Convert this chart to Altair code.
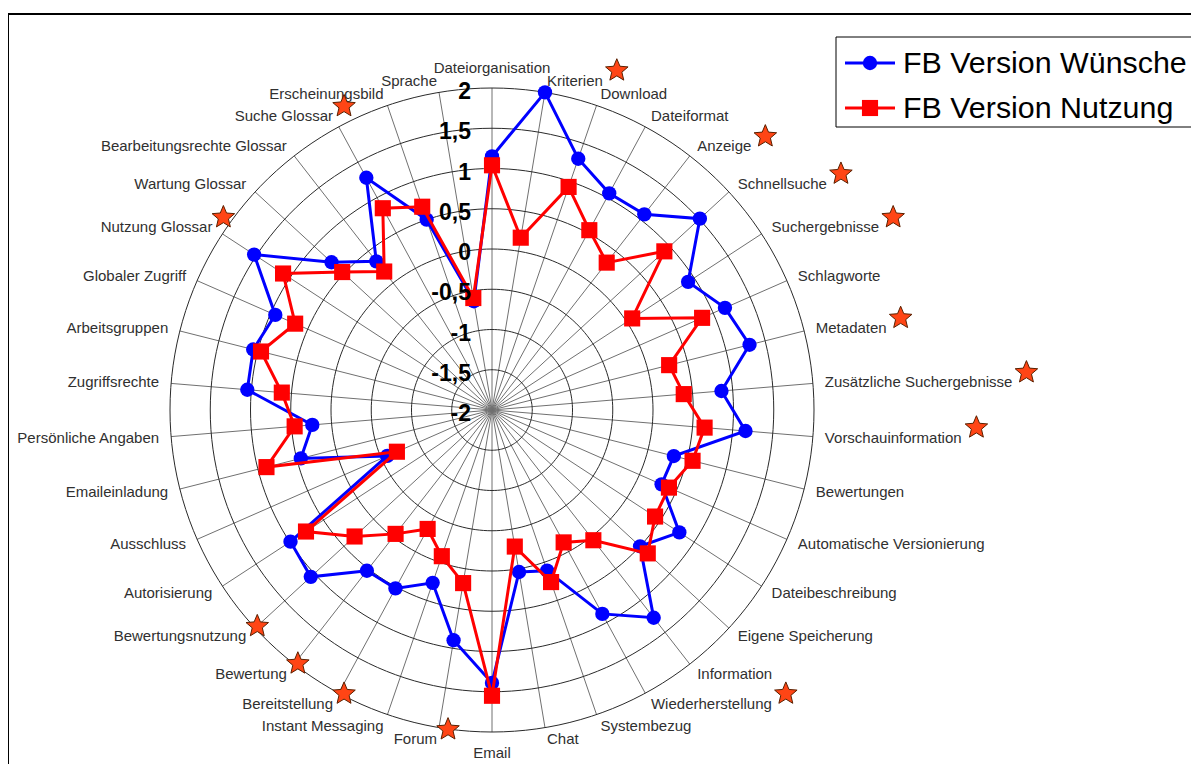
import math
import altair as alt
import pandas as pd

# ---------------- data ----------------
categories = [
    "Dateiorganisation", "Kriterien", "Download", "Dateiformat", "Anzeige",
    "Schnellsuche", "Suchergebnisse", "Schlagworte", "Metadaten",
    "Zusätzliche Suchergebnisse", "Vorschauinformation", "Bewertungen",
    "Automatische Versionierung", "Dateibeschreibung", "Eigene Speicherung",
    "Information", "Wiederherstellung", "Systembezug", "Chat", "Email", "Forum",
    "Instant Messaging", "Bereitstellung", "Bewertung", "Bewertungsnutzung",
    "Autorisierung", "Ausschluss", "Emaileinladung", "Persönliche Angaben",
    "Zugriffsrechte", "Arbeitsgruppen", "Globaler Zugriff", "Nutzung Glossar",
    "Wartung Glossar", "Bearbeitungsrechte Glossar", "Suche Glossar",
    "Erscheinungsbild", "Sprache",
]
wuensche = [
    1.15, 2.0, 1.3, 1.06, 1.08, 1.51, 0.91, 1.16, 1.3, 0.86, 1.16, 0.33,
    0.3, 0.78, 0.5, 1.27, 0.88, 0.11, 0.04, 1.39, 0.9, 0.27, 0.52, 0.53,
    1.06, 0.99, -0.58, 0.45, 0.24, 1.05, 1.06, 0.94, 1.53, 0.71, 0.34,
    1.28, 0.5, -0.63,
]
nutzung = [
    1.04, 0.17, 0.93, 0.54, 0.32, 0.91, 0.08, 0.85, 0.27, 0.39, 0.65, 0.57,
    0.4, 0.42, 0.63, 0.05, -0.13, 0.26, -0.28, 1.55, 0.18, -0.08, -0.32,
    -0.05, 0.32, 0.76, -0.71, 0.89, 0.46, 0.62, 0.96, 0.67, 1.1, 0.53,
    0.18, 0.85, 0.67, -0.59,
]
starred = [
    0, 1, 0, 0, 1, 1, 1, 0, 1, 1, 1, 0, 0, 0, 0, 0, 1, 0, 0, 0, 1, 0, 1, 1,
    1, 0, 0, 0, 0, 0, 0, 0, 1, 0, 0, 1, 0, 0,
]
series_names = ["FB Version Wünsche", "FB Version Nutzung"]
ring_values = [-1.5, -1.0, -0.5, 0.0, 0.5, 1.0, 1.5, 2.0]
tick_values = [-2, -1.5, -1, -0.5, 0, 0.5, 1, 1.5, 2]
tick_labels = ["-2", "-1,5", "-1", "-0,5", "0", "0,5", "1", "1,5", "2"]

# ---------------- layout / style ----------------
W, H = 1183, 756
CX, CY = 484, 402          # centre of the radar inside the plot area (px)
K = 80.5                   # px per value unit
N = len(categories)
VMIN = tick_values[0]
RMAX = tick_values[-1] - VMIN
R_LABEL = RMAX + 12 / K
FONT = "Liberation Sans"
BLUE, RED = "#0000FF", "#FF0000"
RING = "#2a2a2a"
SPOKE = "#707070"

# Arial / Liberation Sans advance widths (1/1000 em) for label-width estimation
_AW = {" ": 278, "A": 667, "B": 667, "C": 722, "D": 722, "E": 667, "F": 611,
       "G": 778, "I": 278, "K": 667, "M": 833, "N": 722, "P": 667, "S": 667,
       "V": 667, "W": 944, "Z": 611, "a": 556, "b": 556, "c": 500, "d": 556,
       "e": 556, "f": 278, "g": 556, "h": 556, "i": 222, "l": 222, "m": 833,
       "n": 556, "o": 556, "p": 556, "r": 333, "s": 500, "t": 278, "u": 556,
       "v": 500, "w": 722, "z": 500, "ä": 556, "ö": 556, "ü": 556}


def text_width(s, size):
    return sum(_AW.get(ch, 556) for ch in s) * size / 1000.0


# star symbol path in unit space
_pts = []
for k in range(10):
    a = math.radians(-90 + 36 * k)
    r = 1.0 if k % 2 == 0 else 0.45
    _pts.append(f"{r * math.cos(a):.3f},{r * math.sin(a):.3f}")
STAR = "M" + " L".join(_pts) + " Z"

xs = alt.Scale(domain=[-CX / K, (W - CX) / K], nice=False, zero=False)
ys = alt.Scale(domain=[-(H - CY) / K, CY / K], nice=False, zero=False)


def X(f):
    return alt.X(f, type="quantitative", scale=xs, axis=None)


def Y(f):
    return alt.Y(f, type="quantitative", scale=ys, axis=None)


THETA = f"datum.idx * 2 * PI / {N}"

df = pd.DataFrame({
    "idx": list(range(N)),
    "cat": categories,
    "star": starred,
    "label_w": [text_width(c, 15) for c in categories],
})

# ---------------- frame (left and top edge; the rest is cut off) ----------------
one = pd.DataFrame({"a": [0]})
frame_left = alt.Chart(one).mark_rule(color="black", strokeWidth=2).encode(
    x=alt.value(0), y=alt.value(6), y2=alt.value(H + 10))
frame_top = alt.Chart(one).mark_rule(color="black", strokeWidth=2).encode(
    x=alt.value(0), x2=alt.value(W + 10), y=alt.value(6))

# ---------------- grid ----------------
spokes = alt.Chart(df).transform_calculate(
    theta=THETA, x0="0", y0="0",
    x1=f"{RMAX} * sin(datum.theta)", y1=f"{RMAX} * cos(datum.theta)",
).mark_rule(color=SPOKE, strokeWidth=1).encode(
    x=X("x0"), y=Y("y0"), x2="x1:Q", y2="y1:Q")

ring_grid = pd.DataFrame(
    [{"v": v, "deg": d} for v in ring_values for d in range(0, 360, 2)])
rings = alt.Chart(ring_grid).transform_calculate(
    rx=f"(datum.v - ({VMIN})) * sin(datum.deg * PI / 180)",
    ry=f"(datum.v - ({VMIN})) * cos(datum.deg * PI / 180)",
).mark_line(color=RING, strokeWidth=1, interpolate="linear-closed").encode(
    x=X("rx"), y=Y("ry"), detail="v:N", order="deg:Q")


# ---------------- series ----------------
def series_layers(values, color, shape, size):
    d = pd.DataFrame({"idx": list(range(N)), "value": values})
    base = alt.Chart(d).transform_calculate(
        theta=THETA,
        px=f"(datum.value - ({VMIN})) * sin(datum.theta)",
        py=f"(datum.value - ({VMIN})) * cos(datum.theta)",
    )
    line = base.mark_line(color=color, strokeWidth=3,
                          interpolate="linear-closed").encode(
        x=X("px"), y=Y("py"), order="idx:Q")
    pts = base.mark_point(filled=True, shape=shape, size=size, color=color,
                          opacity=1).encode(x=X("px"), y=Y("py"))
    return [line, pts]


blue_layers = series_layers(wuensche, BLUE, "circle", 205)
red_layers = series_layers(nutzung, RED, "square", 260)

# ---------------- value tick labels ----------------
ticks = alt.Chart(pd.DataFrame({"v": tick_values, "lab": tick_labels})).transform_calculate(
    x0="0", ty=f"datum.v - ({VMIN})",
).mark_text(align="right", baseline="middle", dx=-21, dy=4, font=FONT,
            fontSize=23, fontWeight="bold", color="#000000").encode(
    x=X("x0"), y=Y("ty"), text="lab:N")

# ---------------- category labels ----------------
lab_base = alt.Chart(df).transform_calculate(
    theta=THETA,
    lx=f"{R_LABEL} * sin(datum.theta)",
    ly=f"{R_LABEL} * cos(datum.theta)",
)
lab_kw = dict(font=FONT, fontSize=15, color="#303030")
lab_right = lab_base.transform_filter(f"datum.idx > 0 && datum.idx < {N / 2}").mark_text(
    align="left", baseline="middle", **lab_kw).encode(x=X("lx"), y=Y("ly"), text="cat:N")
lab_left = lab_base.transform_filter(f"datum.idx > {N / 2}").mark_text(
    align="right", baseline="middle", **lab_kw).encode(x=X("lx"), y=Y("ly"), text="cat:N")
lab_top = lab_base.transform_filter("datum.idx == 0").mark_text(
    align="center", baseline="bottom", **lab_kw).encode(x=X("lx"), y=Y("ly"), text="cat:N")
lab_bottom = lab_base.transform_filter(f"datum.idx == {N / 2}").mark_text(
    align="center", baseline="top", dy=2, **lab_kw).encode(x=X("lx"), y=Y("ly"), text="cat:N")

stars = lab_base.transform_filter("datum.star == 1").transform_calculate(
    sx=f"datum.lx + ((datum.idx < {N / 2}) ? datum.label_w + 14 : 11) / {K}",
    sy=f"datum.ly + 10 / {K}",
).mark_point(shape=STAR, filled=True, fill="#FF4515", stroke="#5A2000",
             strokeWidth=1, size=560, opacity=1).encode(x=X("sx"), y=Y("sy"))

# ---------------- legend (drawn) ----------------
leg_box = alt.Chart(one).mark_rect(fill="white", stroke="black", strokeWidth=1).encode(
    x=alt.value(828), x2=alt.value(W + 20), y=alt.value(29), y2=alt.value(119))
leg = [leg_box]
for name, color, shape, size, yy in [
    (series_names[0], BLUE, "circle", 205, 55),
    (series_names[1], RED, "square", 260, 100),
]:
    sd = pd.DataFrame({"s": [name]})
    leg.append(alt.Chart(sd).mark_rule(color=color, strokeWidth=3).encode(
        x=alt.value(837), x2=alt.value(887), y=alt.value(yy)))
    leg.append(alt.Chart(sd).mark_point(filled=True, shape=shape, size=size,
                                        color=color, opacity=1).encode(
        x=alt.value(862), y=alt.value(yy)))
    leg.append(alt.Chart(sd).mark_text(align="left", baseline="middle", font=FONT,
                                       fontSize=30.4, color="#000000").encode(
        x=alt.value(895), y=alt.value(yy + 1), text="s:N"))

chart = alt.layer(
    frame_left, frame_top, spokes, rings, *blue_layers, *red_layers, ticks,
    lab_right, lab_left, lab_top, lab_bottom, stars, *leg,
).properties(
    width=W, height=H,
    padding={"left": 0, "top": 0, "right": 0, "bottom": 0},
    autosize=alt.AutoSizeParams(type="none"),
).configure_view(stroke=None)

chart.save("out.html", embed_options={"renderer": "svg", "actions": False})
